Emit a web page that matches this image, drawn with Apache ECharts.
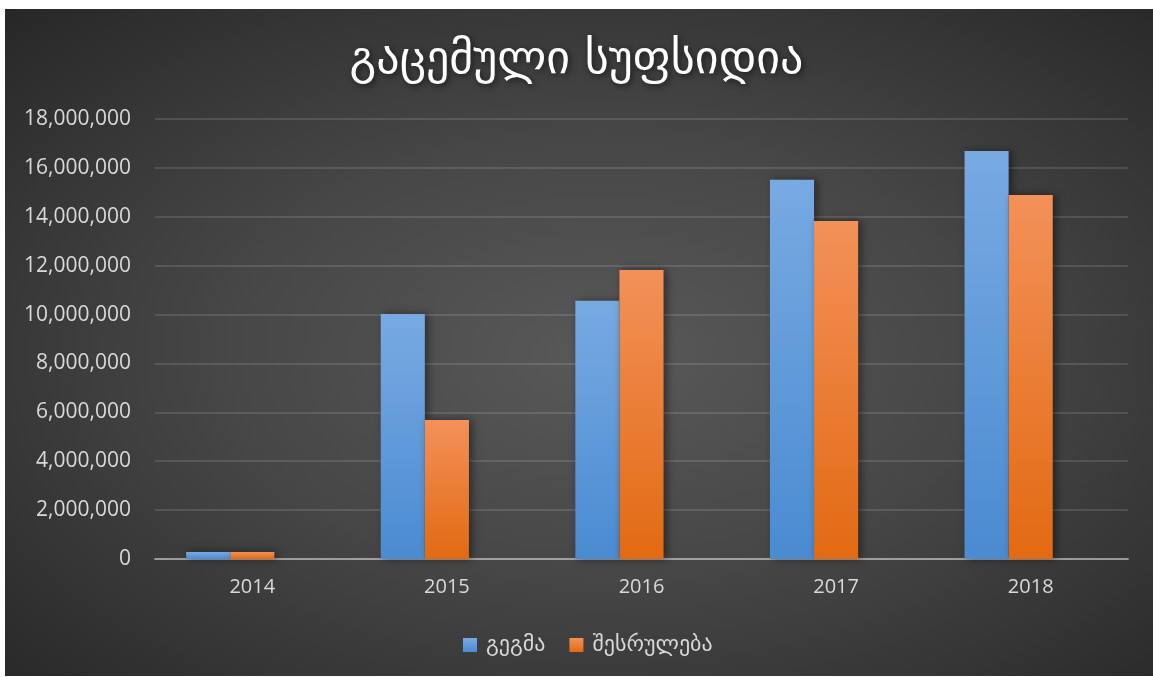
<!DOCTYPE html>
<html>
<head>
<meta charset="utf-8">
<script src="https://cdn.jsdelivr.net/npm/echarts@6/dist/echarts.min.js"></script>
<style>
html,body{margin:0;padding:0;background:#fff;width:1153px;height:677px;overflow:hidden;}
#bg{position:absolute;left:5px;top:9px;width:1148px;height:667px;
background:radial-gradient(ellipse 75% 75% at 52% 52%, #595959 0%, #464646 45%, #262626 100%);}
#chart{position:absolute;left:0;top:0;width:1153px;height:677px;}
</style>
</head>
<body>
<div id="bg"></div>
<div id="chart"></div>
<script>
const titleText = 'გაცემული სუფსიდია';
const categories = ['2014', '2015', '2016', '2017', '2018'];
const seriesNames = ['გეგმა', 'შესრულება'];
const planValues = [290000, 10020000, 10560000, 15510000, 16690000];
const actualValues = [290000, 5690000, 11820000, 13830000, 14890000];
const emptyValues = [null, null, null, null, null];
const yMin = 0, yMax = 18000000, yStep = 2000000;

const chart = echarts.init(document.getElementById('chart'), null, {renderer: 'canvas'});
const fontNum = "'Open Sans', 'DejaVu Sans', sans-serif";
const fontGeo = "'DejaVu Sans', sans-serif";

function grad(top, bottom) {
  return new echarts.graphic.LinearGradient(0, 0, 0, 1, [
    {offset: 0, color: top}, {offset: 1, color: bottom}
  ]);
}

chart.setOption({
  backgroundColor: 'transparent',
  animation: false,
  title: {
    text: titleText,
    left: 'center',
    top: 33,
    textStyle: {
      color: '#ffffff', fontSize: 46, fontWeight: 'normal', fontFamily: fontGeo,
      textShadowColor: 'rgba(0,0,0,0.6)', textShadowBlur: 6, textShadowOffsetX: 2, textShadowOffsetY: 2
    }
  },
  legend: {
    data: seriesNames,
    bottom: 16,
    left: 458,
    itemWidth: 14, itemHeight: 14, itemGap: 24,
    icon: 'rect',
    textStyle: {color: '#d9d9d9', fontSize: 22, fontFamily: fontGeo, padding: [0, 0, 0, 4]}
  },
  grid: {left: 155, right: 25, top: 119, bottom: 118, containLabel: false},
  xAxis: {
    type: 'category',
    data: categories,
    axisLine: {show: true, lineStyle: {color: 'rgba(217,217,217,0.55)', width: 2}},
    axisTick: {show: false},
    axisLabel: {color: '#d9d9d9', fontSize: 20, fontFamily: fontNum, margin: 18}
  },
  yAxis: {
    type: 'value',
    min: yMin, max: yMax, interval: yStep,
    axisLine: {show: false},
    axisTick: {show: false},
    splitLine: {lineStyle: {color: 'rgba(255,255,255,0.12)', width: 2}},
    axisLabel: {
      color: '#d9d9d9', fontSize: 21, fontFamily: fontNum, margin: 24,
      formatter: v => v.toLocaleString('en-US')
    }
  },
  series: [
    {
      name: seriesNames[0], type: 'bar', data: planValues,
      barGap: '0%', barCategoryGap: '32%',
      itemStyle: {
        color: grad('#78aae2', '#4a8bd1'),
        shadowColor: 'rgba(0,0,0,0.45)', shadowBlur: 8, shadowOffsetX: 3, shadowOffsetY: 0
      }
    },
    {
      name: seriesNames[1], type: 'bar', data: actualValues,
      barGap: '0%', barCategoryGap: '32%',
      itemStyle: {
        color: grad('#f39159', '#e26a12'),
        shadowColor: 'rgba(0,0,0,0.45)', shadowBlur: 8, shadowOffsetX: 3, shadowOffsetY: 0
      }
    },
    {
      name: 'hidden', type: 'bar', data: emptyValues,
      barGap: '0%', barCategoryGap: '32%',
      itemStyle: {color: 'transparent'}
    }
  ]
});
</script>
</body>
</html>
